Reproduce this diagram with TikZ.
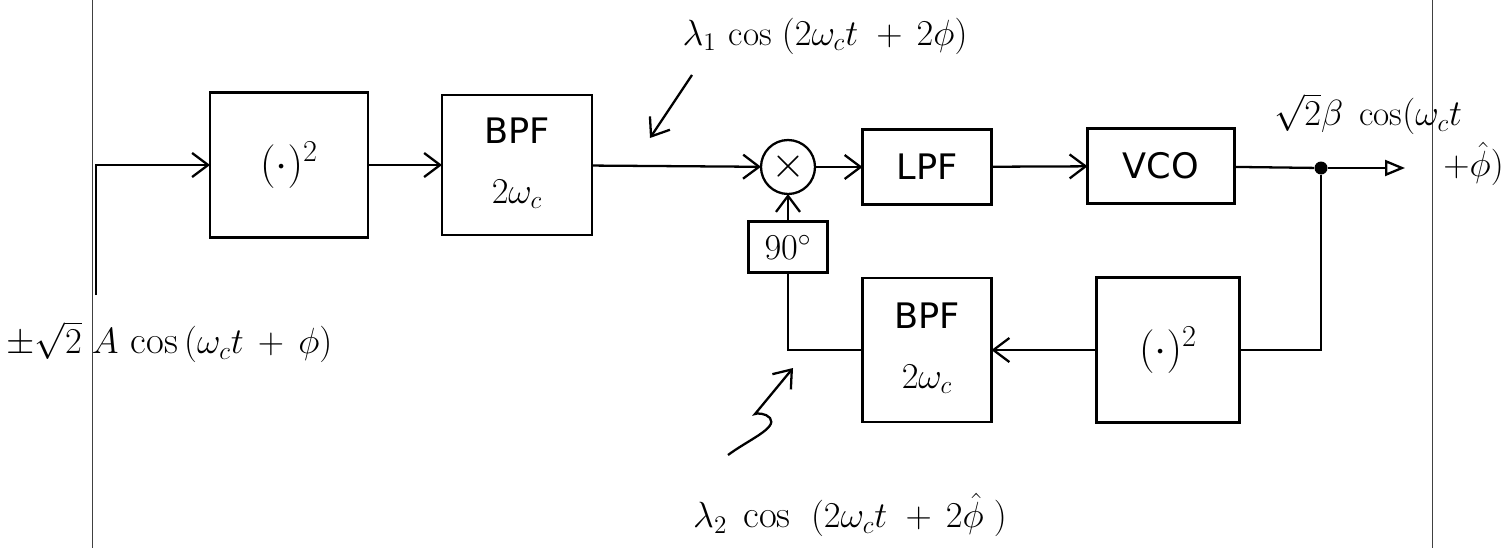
\documentclass[tikz,border=0pt]{standalone}
\usepackage{fontspec}
\setsansfont{DejaVu Sans}
\usetikzlibrary{arrows.meta}
\newcommand{\twoline}[2]{\begin{tabular}{@{}c@{}}#1\\[10pt]#2\end{tabular}}
\begin{document}
\begin{tikzpicture}[x=0.02cm,y=-0.02cm,
  blk/.style={draw,line width=1.6pt,inner sep=0pt,outer sep=0pt,
    font=\fontsize{20}{24}\selectfont\sffamily},
  arr/.style={line width=1.3pt,-{Straight Barb[length=3.2mm,width=4.8mm,line width=1.3pt]}},
  outarr/.style={line width=1.3pt,-{Triangle[open,length=4mm,width=3.2mm,line width=1.3pt]}},
  wire/.style={line width=1.3pt},
  lbl/.style={font=\fontsize{20}{24}\selectfont},
  margin/.style={line width=0.5pt,black!75}]
\useasboundingbox (0,0) rectangle (1506,548);
% notebook margin lines
\draw[margin] (92,0) -- (92,548);
\draw[margin] (1432,0) -- (1432,548);
% blocks
\node[blk,minimum width=3.16cm,minimum height=2.9cm,font=\fontsize{26}{30}\selectfont] (sq1) at (289,165) {$(\cdot)^2$};
\node[blk,minimum width=3.0cm,minimum height=2.8cm] (bpf1) at (517,165) {\twoline{BPF}{$2\omega_c$}};
\node[draw,circle,line width=1.3pt,minimum size=1.08cm,inner sep=0pt,outer sep=0pt,font=\fontsize{24}{28}\selectfont] (mix) at (788,167) {$\times$};
\node[blk,minimum width=2.58cm,minimum height=1.5cm] (lpf) at (927,167) {LPF};
\node[blk,minimum width=2.94cm,minimum height=1.5cm] (vco) at (1161,166) {VCO};
\node[circle,fill=black,minimum size=0.26cm,inner sep=0pt] (dot) at (1321,168) {};
\coordinate (outend) at (1405,168);
\node[blk,minimum width=2.86cm,minimum height=2.9cm,font=\fontsize{26}{30}\selectfont] (sq2) at (1168,350) {$(\cdot)^2$};
\node[blk,minimum width=2.58cm,minimum height=2.88cm] (bpf2) at (927,350) {\twoline{BPF}{$2\omega_c$}};
\node[blk,minimum width=1.58cm,minimum height=1.02cm,font=\fontsize{20}{24}\selectfont] (ph) at (788,247) {$90^\circ$};
\coordinate (inp) at (96,295);
% connectors
\draw[arr] (inp) |- (sq1.west);
\draw[arr] (sq1) -- (bpf1);
\draw[arr] (bpf1) -- (mix);
\draw[arr] (mix) -- (lpf);
\draw[arr] (lpf) -- (vco);
\draw[wire] (vco) -- (dot);
\draw[outarr] (dot) -- (outend);
\draw[wire] (dot) |- (sq2.east);
\draw[arr] (sq2) -- (bpf2);
\draw[wire] (bpf2.west) -| (ph.south);
\draw[arr] (ph) -- (mix);
% labels
\node[font=\fontsize{22}{26}\selectfont,anchor=west,inner sep=0pt] (inlbl) at (6,342) {$\pm\sqrt{2}\;A\,\cos\,(\omega_c t\,+\,\phi)$};
\node[lbl] (l1) at (825,36) {$\lambda_1\,\cos\;(2\omega_c t\;+\,2\phi)$};
\coordinate (l1a) at (692,75);
\coordinate (l1b) at (650,138);
\draw[arr] (l1a) -- (l1b);
\node[lbl,font=\fontsize{22}{26}\selectfont] (l2) at (850,515) {$\lambda_2\;\cos\;\;(2\omega_c t\;+\,2\hat{\phi}\;)$};
\coordinate (l2a) at (728,455);
\coordinate (l2b) at (793,368);
\draw[arr] (l2a) .. controls (748,440) and (778,428) .. (770,418) .. controls (766,413) and (756,413) .. (755,414) -- (l2b);
\node[lbl] (o1) at (1368,114) {$\sqrt{2}\beta\;\cos(\omega_c t$};
\node[lbl,anchor=east,inner sep=0pt] (o2) at (1504,164) {$+\hat{\phi})$};
\end{tikzpicture}
\end{document}
